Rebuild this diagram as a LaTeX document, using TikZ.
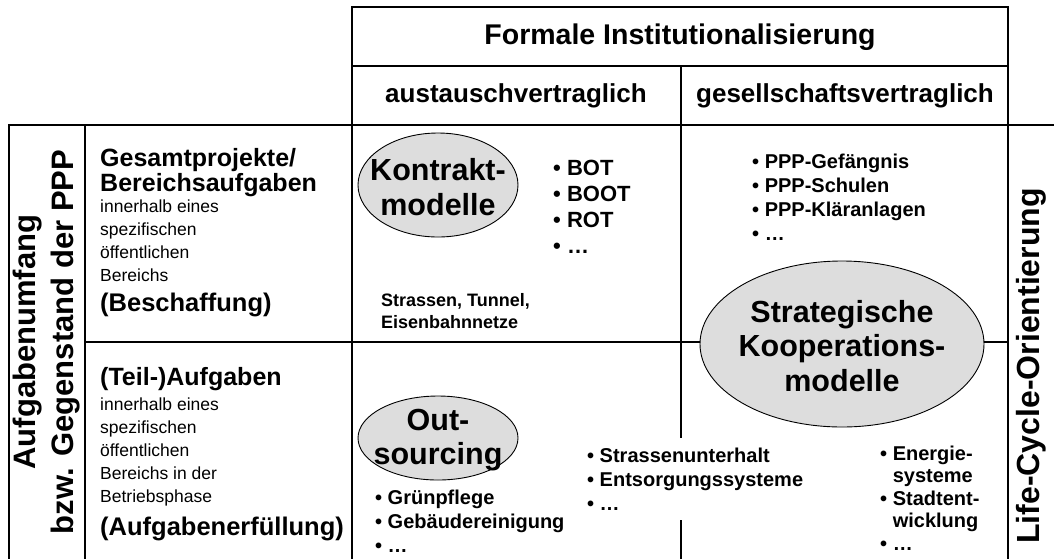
\documentclass[tikz,border=0pt]{standalone}
\usepackage{fontspec}
\setmainfont{Liberation Sans}
\usetikzlibrary{shapes.geometric}
\definecolor{ovalgray}{RGB}{221,221,221}
\begin{document}
\begin{tikzpicture}[x=1pt,y=-1pt,
  grid/.style={line width=1.8pt,line cap=rect},
  oval/.style={draw,line width=0.9pt,fill=ovalgray},
  ovaltext/.style={align=center,inner sep=0pt,font=\fontsize{30.5}{34.5}\selectfont\bfseries},
  head/.style={inner sep=0pt,font=\fontsize{28.5}{32}\selectfont\bfseries},
  subhead/.style={inner sep=0pt,font=\fontsize{26}{30}\selectfont\bfseries},
  sidelabel/.style={inner sep=0pt,align=center,rotate=90,font=\fontsize{31}{38}\selectfont\bfseries},
  rowhead/.style={anchor=base west,inner sep=0pt,align=left,font=\fontsize{25}{25}\selectfont\bfseries},
  rowbody/.style={anchor=base west,inner sep=0pt,align=left,font=\fontsize{17.5}{23}\selectfont},
  rowtail/.style={anchor=base west,inner sep=0pt,align=left,font=\fontsize{25.5}{30}\selectfont\bfseries},
  items/.style={anchor=base west,inner sep=0pt,align=left,font=\fontsize{20}{24}\selectfont\bfseries},
  bigitems/.style={anchor=base west,inner sep=0pt,align=left,font=\fontsize{22}{26}\selectfont\bfseries},
  smallitems/.style={anchor=base west,inner sep=0pt,align=left,font=\fontsize{18}{22}\selectfont\bfseries}
]
\useasboundingbox (0,0) rectangle (1054,558);

% grid of the matrix
\draw[grid] (352,7) rectangle (1008,125);
\draw[grid] (352,66) -- (1008,66);
\draw[grid] (9,125) -- (1054,125);
\draw[grid] (9,125) -- (9,558);
\draw[grid] (85,125) -- (85,558);
\draw[grid] (352,125) -- (352,558);
\draw[grid] (681,66) -- (681,558);
\draw[grid] (1008,125) -- (1008,558);
\draw[grid] (85,342) -- (1008,342);

% column headings
\node[head] (title) at (680,37) {Formale Institutionalisierung};
\node[subhead] (colA) at (516,96) {austauschvertraglich};
\node[subhead] (colB) at (845,96) {gesellschaftsvertraglich};

% side labels
\node[sidelabel] (scope) at (47,342) {Aufgabenumfang\\bzw. Gegenstand der PPP};
\node[sidelabel,font=\fontsize{32}{38}\selectfont\bfseries] (life) at (1031,366) {Life-Cycle-Orientierung};

% row descriptions (nodes are placed at the baseline of their last line)
\node[rowhead] (r1h) at (100,191) {Gesamtprojekte/\\Bereichsaufgaben};
\node[rowbody] (r1b) at (100,281) {innerhalb eines\\spezifischen\\öffentlichen\\Bereichs};
\node[rowtail] (r1t) at (100,311) {(Beschaffung)};
\node[rowhead] (r2h) at (100,385) {(Teil-)Aufgaben};
\node[rowbody] (r2b) at (100,502) {innerhalb eines\\spezifischen\\öffentlichen\\Bereichs in der\\Betriebsphase};
\node[rowtail] (r2t) at (100,535) {(Aufgabenerfüllung)};

% model ellipses
\draw[oval] (438,185) ellipse [x radius=80,y radius=52];
\node[ovaltext] (kontrakt) at (438,187) {Kontrakt-\\modelle};
\draw[oval] (438,438) ellipse [x radius=80,y radius=42];
\node[ovaltext] (outsourcing) at (438,440) {Out-\\sourcing};
\draw[oval] (842,344) ellipse [x radius=142,y radius=83];
\node[ovaltext] (strategisch) at (842,346) {Strategische\\Kooperations-\\modelle};

% examples
\node[bigitems] (bot) at (553,253) {• BOT\\• BOOT\\• ROT\\• …};
\node[smallitems] (netze) at (381,328) {Strassen, Tunnel,\\Eisenbahnnetze};
\node[items] (ppp) at (752,240.5) {• PPP-Gefängnis\\• PPP-Schulen\\• PPP-Kläranlagen\\• …};
\node[items,fill=white,inner ysep=10pt,inner xsep=2pt] (unterhalt) at (585,510) {• Strassenunterhalt\\• Entsorgungssysteme\\• …};
\node[items] (gruen) at (375,552) {• Grünpflege\\• Gebäudereinigung\\• …};
\node[items,font=\fontsize{20}{22.5}\selectfont\bfseries] (energie) at (880,550) {• Energie-\\\hphantom{• }systeme\\• Stadtent-\\\hphantom{• }wicklung\\• …};
\end{tikzpicture}
\end{document}
